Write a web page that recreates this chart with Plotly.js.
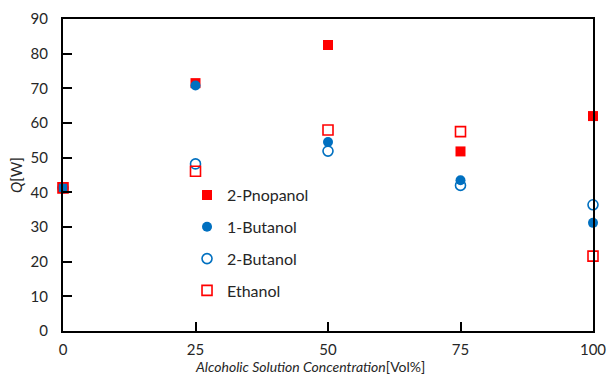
<!DOCTYPE html>
<html>
<head>
<meta charset="utf-8">
<script src="https://cdn.plot.ly/plotly-3.0.1.min.js"></script>
<style>html,body{margin:0;padding:0;background:#fff}#chart{width:607px;height:374px}</style>
</head>
<body>
<div id="chart"></div>
<script>
// Heat transfer rate Q [W] against alcohol concentration [Vol%]
const concentration = [0, 25, 50, 75, 100];
const propanol2 = [41.3, 71.5, 82.5, 51.8, 62.0];
const butanol1 = [41.3, 70.8, 54.5, 43.5, 31.2];
const butanol2 = [41.3, 48.2, 51.9, 42.0, 36.4];
const ethanol = [41.3, 46.1, 58.0, 57.5, 21.6];
const xTicks = [0, 25, 50, 75, 100];
const yTicks = [0, 10, 20, 30, 40, 50, 60, 70, 80, 90];

const RED = '#ff0000';
const BLUE = '#0070c0';
const FONT = 'Lato, "Open Sans", sans-serif';
const TEXT = '#262626';

function series(name, y, symbol, color, group) {
  const open = symbol.indexOf('open') >= 0;
  return {
    x: concentration, y: y, name: name, type: 'scatter', mode: 'markers',
    legendgroup: group, cliponaxis: false,
    marker: {symbol: symbol, size: 10, color: color,
             line: {color: color, width: open ? 1.6 : 0}}
  };
}

const data = [
  series('2-Pnopanol', propanol2, 'square', RED, 'a'),
  series('1-Butanol', butanol1, 'circle', BLUE, 'b'),
  series('2-Butanol', butanol2, 'circle-open', BLUE, 'c'),
  series('Ethanol', ethanol, 'square-open', RED, 'd')
];

const axisBase = {
  showgrid: false, zeroline: false, showline: true, mirror: true,
  linecolor: '#000', linewidth: 2, ticks: 'inside', tickcolor: '#000',
  tickwidth: 2, ticklen: 9, tickfont: {family: FONT, size: 15, color: TEXT}
};

const layout = {
  width: 607, height: 374,
  margin: {l: 63, r: 14, t: 19, b: 43},
  paper_bgcolor: '#fff', plot_bgcolor: '#fff',
  showlegend: true,
  legend: {x: 0.234, y: 0.49, xanchor: 'left', yanchor: 'top',
           bgcolor: 'rgba(0,0,0,0)', tracegroupgap: 8, itemwidth: 30,
           font: {family: FONT, size: 16, color: TEXT}},
  xaxis: Object.assign({}, axisBase, {
    range: [0, 100], tickvals: xTicks, ticktext: xTicks.map(String),
    ticklabelstandoff: 4
  }),
  yaxis: Object.assign({}, axisBase, {
    range: [0, 90], tickvals: yTicks, ticktext: yTicks.map(String),
    ticklabelstandoff: 10,
    title: {text: '<i>Q</i>[W]', standoff: 4,
            font: {family: FONT, size: 15, color: TEXT}}
  }),
  annotations: [{
    text: '<i>Alcoholic Solution Concentration</i>[Vol%]',
    xref: 'paper', yref: 'paper', x: 0.466, y: -0.113,
    xanchor: 'center', yanchor: 'middle', showarrow: false,
    font: {family: FONT, size: 14, color: TEXT}
  }]
};

Plotly.newPlot('chart', data, layout, {displayModeBar: false, staticPlot: true});
</script>
</body>
</html>
